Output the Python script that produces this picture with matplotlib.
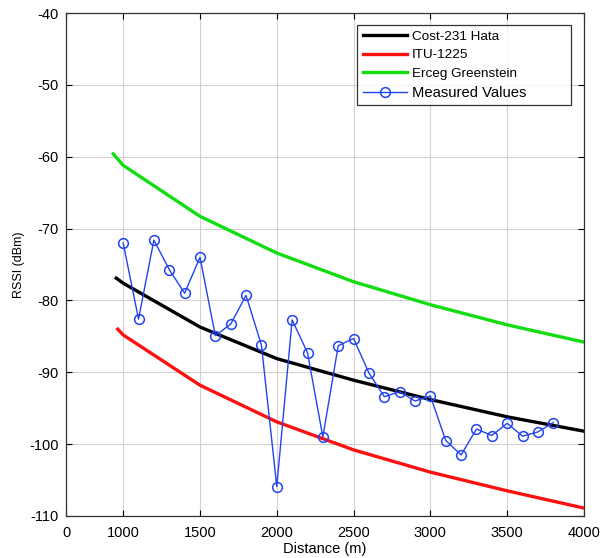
import matplotlib
matplotlib.use("Agg")
import matplotlib.pyplot as plt

plt.rcParams['font.family'] = ['Liberation Sans', 'DejaVu Sans']
plt.rcParams['axes.unicode_minus'] = False

# model curves
d_cost = [955, 1000, 1500, 2000, 2500, 3000, 3500, 4000]
rssi_cost = [-76.9, -77.6, -83.7, -88.1, -91.1, -93.8, -96.2, -98.2]

d_itu = [965, 1000, 1500, 2000, 2500, 3000, 3500, 4000]
rssi_itu = [-84.0, -84.8, -91.8, -96.9, -100.8, -103.9, -106.5, -108.9]

d_erceg = [935, 1000, 1500, 2000, 2500, 3000, 3500, 4000]
rssi_erceg = [-59.6, -61.2, -68.3, -73.4, -77.4, -80.6, -83.4, -85.8]

# measured points
d_meas = [1000, 1100, 1200, 1300, 1400, 1500, 1600, 1700, 1800, 1900,
          2000, 2100, 2200, 2300, 2400, 2500, 2600, 2700, 2800, 2900,
          3000, 3100, 3200, 3300, 3400, 3500, 3600, 3700, 3800]
rssi_meas = [-72.0, -82.6, -71.6, -75.7, -79.0, -74.0, -84.9, -83.3, -79.3, -86.2,
             -105.9, -82.7, -87.3, -99.0, -86.3, -85.3, -90.1, -93.4, -92.7, -94.0,
             -93.3, -99.5, -101.5, -97.9, -98.8, -97.1, -98.9, -98.3, -97.0]

x_ticks = [628, 1000, 1500, 2000, 2500, 3000, 3500, 4000]
x_labels = ['0', '1000', '1500', '2000', '2500', '3000', '3500', '4000']
y_ticks = [-110, -100, -90, -80, -70, -60, -50, -40]

fig = plt.figure(figsize=(6.13, 5.58), dpi=100)
ax = fig.add_axes([0.1077, 0.0753, 0.845, 0.9014])

ax.plot(d_cost, rssi_cost, color='black', lw=2.4, label='Cost-231 Hata')
ax.plot(d_itu, rssi_itu, color='#ff1010', lw=2.4, label='ITU-1225')
ax.plot(d_erceg, rssi_erceg, color='#11dd11', lw=2.4, label='Erceg Greenstein')
ax.plot(d_meas, rssi_meas, color='#2244ee', lw=1.0, marker='o', ms=7,
        mfc='none', mec='#2244ee', mew=1.1, label='Measured Values')

ax.set_xlim(628, 4000)
ax.set_ylim(-110, -40)
ax.set_xticks(x_ticks)
ax.set_xticklabels(x_labels)
ax.set_yticks(y_ticks)
ax.grid(True, color='#d8d0d0', lw=0.8)
ax.tick_params(direction='in', top=True, right=True, labelsize=10.5, length=4)
ax.tick_params(axis='x', pad=7)
ax.tick_params(axis='y', pad=5)
for s in ax.spines.values():
    s.set_color('#333333')
    s.set_linewidth(0.9)

ax.set_xlabel('Distance (m)', fontsize=10.5, labelpad=2)
ax.set_ylabel('RSSI (dBm)', fontsize=9, labelpad=3)

leg = ax.legend(loc='upper left', bbox_to_anchor=(0.562, 0.5, 0.413, 0.476),
                mode='expand', borderaxespad=0, fontsize=9.7, frameon=True,
                fancybox=False, edgecolor='black', handlelength=3.3,
                labelspacing=0.45, handletextpad=0.35, borderpad=0.4)
leg.get_frame().set_linewidth(0.9)
leg.get_texts()[3].set_fontsize(10.6)

fig.savefig('out.png', dpi=100)
